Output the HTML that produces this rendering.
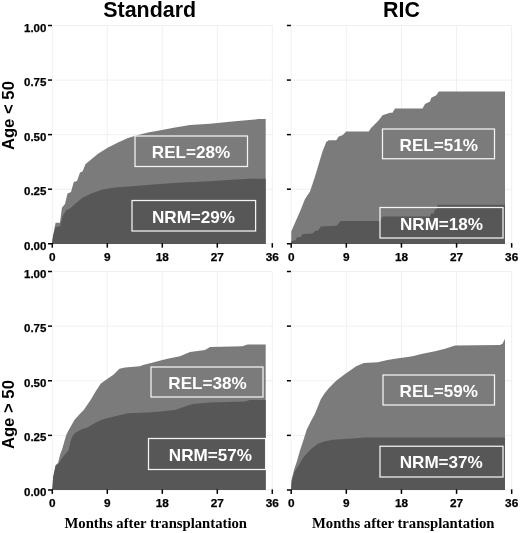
<!DOCTYPE html>
<html><head><meta charset="utf-8"><title>Cumulative incidence</title>
<style>
html,body{margin:0;padding:0;background:#fff;}
svg{display:block;}
text{font-family:"Liberation Sans",Arial,sans-serif;font-weight:bold;fill:#000;}
.ax{font-size:11.8px;}
.ay{font-size:11.5px;}
.ax,.ay{stroke:#000;stroke-width:0.25px;}
.ttl{font-size:21.4px;}
.yl{font-size:16px;}
.bx{font-size:17.1px;fill:#fff;}
.xl{font-family:"Liberation Serif","Times New Roman",serif;font-size:14.7px;}
</style></head><body>
<svg width="520" height="533" viewBox="0 0 520 533">
<rect width="520" height="533" fill="#fff"/>

<line x1="52.3" y1="25.5" x2="52.3" y2="243.75" stroke="#f0f0f0" stroke-width="1"/>
<line x1="107.3" y1="25.5" x2="107.3" y2="243.75" stroke="#f0f0f0" stroke-width="1"/>
<line x1="162.3" y1="25.5" x2="162.3" y2="243.75" stroke="#f0f0f0" stroke-width="1"/>
<line x1="217.3" y1="25.5" x2="217.3" y2="243.75" stroke="#f0f0f0" stroke-width="1"/>
<line x1="272.3" y1="25.5" x2="272.3" y2="243.75" stroke="#f0f0f0" stroke-width="1"/>
<line x1="52.3" y1="243.75" x2="272.6" y2="243.75" stroke="#f0f0f0" stroke-width="1"/>
<line x1="52.3" y1="189.188" x2="272.6" y2="189.188" stroke="#f0f0f0" stroke-width="1"/>
<line x1="52.3" y1="134.625" x2="272.6" y2="134.625" stroke="#f0f0f0" stroke-width="1"/>
<line x1="52.3" y1="80.0625" x2="272.6" y2="80.0625" stroke="#f0f0f0" stroke-width="1"/>
<line x1="52.3" y1="25.5" x2="272.6" y2="25.5" stroke="#f0f0f0" stroke-width="1"/>
<line x1="291.2" y1="25.5" x2="291.2" y2="243.75" stroke="#f0f0f0" stroke-width="1"/>
<line x1="346.32" y1="25.5" x2="346.32" y2="243.75" stroke="#f0f0f0" stroke-width="1"/>
<line x1="401.44" y1="25.5" x2="401.44" y2="243.75" stroke="#f0f0f0" stroke-width="1"/>
<line x1="456.56" y1="25.5" x2="456.56" y2="243.75" stroke="#f0f0f0" stroke-width="1"/>
<line x1="511.68" y1="25.5" x2="511.68" y2="243.75" stroke="#f0f0f0" stroke-width="1"/>
<line x1="291.2" y1="243.75" x2="511.5" y2="243.75" stroke="#f0f0f0" stroke-width="1"/>
<line x1="291.2" y1="189.188" x2="511.5" y2="189.188" stroke="#f0f0f0" stroke-width="1"/>
<line x1="291.2" y1="134.625" x2="511.5" y2="134.625" stroke="#f0f0f0" stroke-width="1"/>
<line x1="291.2" y1="80.0625" x2="511.5" y2="80.0625" stroke="#f0f0f0" stroke-width="1"/>
<line x1="291.2" y1="25.5" x2="511.5" y2="25.5" stroke="#f0f0f0" stroke-width="1"/>
<line x1="52.3" y1="271.5" x2="52.3" y2="490" stroke="#f0f0f0" stroke-width="1"/>
<line x1="107.3" y1="271.5" x2="107.3" y2="490" stroke="#f0f0f0" stroke-width="1"/>
<line x1="162.3" y1="271.5" x2="162.3" y2="490" stroke="#f0f0f0" stroke-width="1"/>
<line x1="217.3" y1="271.5" x2="217.3" y2="490" stroke="#f0f0f0" stroke-width="1"/>
<line x1="272.3" y1="271.5" x2="272.3" y2="490" stroke="#f0f0f0" stroke-width="1"/>
<line x1="52.3" y1="490" x2="272.6" y2="490" stroke="#f0f0f0" stroke-width="1"/>
<line x1="52.3" y1="435.375" x2="272.6" y2="435.375" stroke="#f0f0f0" stroke-width="1"/>
<line x1="52.3" y1="380.75" x2="272.6" y2="380.75" stroke="#f0f0f0" stroke-width="1"/>
<line x1="52.3" y1="326.125" x2="272.6" y2="326.125" stroke="#f0f0f0" stroke-width="1"/>
<line x1="52.3" y1="271.5" x2="272.6" y2="271.5" stroke="#f0f0f0" stroke-width="1"/>
<line x1="291.2" y1="271.5" x2="291.2" y2="490" stroke="#f0f0f0" stroke-width="1"/>
<line x1="346.32" y1="271.5" x2="346.32" y2="490" stroke="#f0f0f0" stroke-width="1"/>
<line x1="401.44" y1="271.5" x2="401.44" y2="490" stroke="#f0f0f0" stroke-width="1"/>
<line x1="456.56" y1="271.5" x2="456.56" y2="490" stroke="#f0f0f0" stroke-width="1"/>
<line x1="511.68" y1="271.5" x2="511.68" y2="490" stroke="#f0f0f0" stroke-width="1"/>
<line x1="291.2" y1="490" x2="511.5" y2="490" stroke="#f0f0f0" stroke-width="1"/>
<line x1="291.2" y1="435.375" x2="511.5" y2="435.375" stroke="#f0f0f0" stroke-width="1"/>
<line x1="291.2" y1="380.75" x2="511.5" y2="380.75" stroke="#f0f0f0" stroke-width="1"/>
<line x1="291.2" y1="326.125" x2="511.5" y2="326.125" stroke="#f0f0f0" stroke-width="1"/>
<line x1="291.2" y1="271.5" x2="511.5" y2="271.5" stroke="#f0f0f0" stroke-width="1"/>
<path d="M51.9,244 L53,236 L55.6,222.75 L60,222.75 L61.9,207.75 L65,204 L67.5,193.5 L71,192 L73.75,182 L77,181 L80,172.5 L82.5,171.5 L85.6,164 L90.5,160 L98,153.75 L108,147.5 L118,142.5 L128,138 L138,135 L148,132.5 L160.5,130.25 L175,127.5 L190,125 L210,123.75 L235,121.25 L255,119.5 L266,118 L265.7,118 L265.7,243.9 Z" fill="#7b7b7b"/>
<path d="M51.9,244 L53,236 L55.6,227 L60,226.5 L62.5,216.5 L66.25,210.25 L70,208.4 L75,204 L82.5,197.75 L91.25,193.4 L102.5,189.6 L115,187.5 L135.5,186 L153,184.5 L178,182.75 L210,181.25 L235,179.5 L266,178.2 L265.7,178.2 L265.7,243.9 Z" fill="#575757"/>
<path d="M291.25,244 L291.25,231.5 L295,222.75 L300,211.5 L305,199 L310,191.5 L315,176.5 L318.75,164 L322.5,151.5 L326.25,142 L328.75,140.25 L336.25,140.25 L338.75,136.5 L342.5,135.25 L346.25,131.5 L368.75,131.5 L371.25,127.75 L375,124 L378.75,120.25 L382.5,115.25 L390,112.75 L392.5,112.75 L395,108.5 L422.5,108.5 L425,104 L430,101.5 L431.25,97.75 L436.25,95.25 L438.75,91.5 L505,91.5 L505,91.5 L505,243.9 Z" fill="#7b7b7b"/>
<path d="M291.1,244 L291.1,241.5 L295.5,240.25 L296.75,237.5 L301,237 L302.5,234 L312.5,233.5 L315,231 L318,230.5 L321,226.5 L336.75,225.75 L340.5,221 L380,221 L382.5,216.5 L430,216.5 L431,213.5 L434,213.5 L435,209 L437,209 L437.5,204.75 L505,204.75 L505,204.75 L505,243.9 Z" fill="#575757"/>
<path d="M51.9,490 L52.5,487.5 L53.1,477.5 L55.6,465 L58.1,463 L60,455 L61.9,450 L66.25,435 L68.75,430 L74.4,420 L80,413.75 L83.75,410 L90.6,400 L95,392.5 L100.6,383.75 L107.5,378.75 L113.75,374.4 L119.4,368.75 L125,367.5 L140,366.25 L143,365 L153,362.5 L160.5,360.5 L167.5,358.75 L180,356.25 L190,352 L205,350 L210,347 L242.5,346.25 L247.5,344.5 L266,344.25 L265.7,344.25 L265.7,490.1 Z" fill="#7b7b7b"/>
<path d="M51.9,490 L52.5,487.5 L53.1,477.5 L55.6,466 L58.1,464 L62.5,457.5 L68.75,450 L69.4,446.25 L71.9,436.9 L75,433 L81.25,429.4 L87.5,427.5 L93.75,423.75 L100,420.6 L105,418.75 L115,416.25 L128,413.25 L148,412.5 L160.5,411.5 L175,410 L185,406.5 L192.5,404 L210,402.5 L245,401.5 L250,400 L266,400 L265.7,400 L265.7,490.1 Z" fill="#575757"/>
<path d="M291.1,490 L291.4,484 L291.75,479 L294,470 L297,461 L300,450.5 L303,441.5 L306.75,429.5 L311.25,420.5 L314.6,414.5 L316.5,410 L320.8,399.2 L324.5,393.5 L328.5,388.5 L336.2,380.8 L345.4,373.8 L356.2,366.2 L363.8,363 L377.7,362.3 L387.5,360 L395,358.75 L407.5,357 L412.5,356.25 L422.5,353.75 L435,351.25 L445,348.75 L455,345.5 L500,345 L502.5,343.75 L505,338.75 L505,338.75 L505,490.1 Z" fill="#7b7b7b"/>
<path d="M291.1,490 L291.4,484 L291.75,480.5 L294.75,471.5 L298.5,465.5 L303,458 L307.5,452.75 L312,448.25 L318,443.75 L324,441.5 L333,439.7 L340.5,439.25 L353,438.5 L365,437.5 L505,437.5 L505,437.5 L505,490.1 Z" fill="#575757"/>
<line x1="52.3" y1="243.15" x2="52.3" y2="247.65" stroke="#000" stroke-width="1.5"/>
<line x1="107.3" y1="243.15" x2="107.3" y2="247.65" stroke="#000" stroke-width="1.5"/>
<line x1="162.3" y1="243.15" x2="162.3" y2="247.65" stroke="#000" stroke-width="1.5"/>
<line x1="217.3" y1="243.15" x2="217.3" y2="247.65" stroke="#000" stroke-width="1.5"/>
<line x1="272.3" y1="243.15" x2="272.3" y2="247.65" stroke="#000" stroke-width="1.5"/>
<line x1="48" y1="243.75" x2="52" y2="243.75" stroke="#000" stroke-width="1.5"/>
<line x1="48" y1="189.188" x2="52" y2="189.188" stroke="#000" stroke-width="1.5"/>
<line x1="48" y1="134.625" x2="52" y2="134.625" stroke="#000" stroke-width="1.5"/>
<line x1="48" y1="80.0625" x2="52" y2="80.0625" stroke="#000" stroke-width="1.5"/>
<line x1="48" y1="25.5" x2="52" y2="25.5" stroke="#000" stroke-width="1.5"/>
<line x1="291.2" y1="243.15" x2="291.2" y2="247.65" stroke="#000" stroke-width="1.5"/>
<line x1="346.32" y1="243.15" x2="346.32" y2="247.65" stroke="#000" stroke-width="1.5"/>
<line x1="401.44" y1="243.15" x2="401.44" y2="247.65" stroke="#000" stroke-width="1.5"/>
<line x1="456.56" y1="243.15" x2="456.56" y2="247.65" stroke="#000" stroke-width="1.5"/>
<line x1="511.68" y1="243.15" x2="511.68" y2="247.65" stroke="#000" stroke-width="1.5"/>
<line x1="286.9" y1="243.75" x2="290.9" y2="243.75" stroke="#000" stroke-width="1.5"/>
<line x1="286.9" y1="189.188" x2="290.9" y2="189.188" stroke="#000" stroke-width="1.5"/>
<line x1="286.9" y1="134.625" x2="290.9" y2="134.625" stroke="#000" stroke-width="1.5"/>
<line x1="286.9" y1="80.0625" x2="290.9" y2="80.0625" stroke="#000" stroke-width="1.5"/>
<line x1="286.9" y1="25.5" x2="290.9" y2="25.5" stroke="#000" stroke-width="1.5"/>
<line x1="52.3" y1="489.4" x2="52.3" y2="493.9" stroke="#000" stroke-width="1.5"/>
<line x1="107.3" y1="489.4" x2="107.3" y2="493.9" stroke="#000" stroke-width="1.5"/>
<line x1="162.3" y1="489.4" x2="162.3" y2="493.9" stroke="#000" stroke-width="1.5"/>
<line x1="217.3" y1="489.4" x2="217.3" y2="493.9" stroke="#000" stroke-width="1.5"/>
<line x1="272.3" y1="489.4" x2="272.3" y2="493.9" stroke="#000" stroke-width="1.5"/>
<line x1="48" y1="490" x2="52" y2="490" stroke="#000" stroke-width="1.5"/>
<line x1="48" y1="435.375" x2="52" y2="435.375" stroke="#000" stroke-width="1.5"/>
<line x1="48" y1="380.75" x2="52" y2="380.75" stroke="#000" stroke-width="1.5"/>
<line x1="48" y1="326.125" x2="52" y2="326.125" stroke="#000" stroke-width="1.5"/>
<line x1="48" y1="271.5" x2="52" y2="271.5" stroke="#000" stroke-width="1.5"/>
<line x1="291.2" y1="489.4" x2="291.2" y2="493.9" stroke="#000" stroke-width="1.5"/>
<line x1="346.32" y1="489.4" x2="346.32" y2="493.9" stroke="#000" stroke-width="1.5"/>
<line x1="401.44" y1="489.4" x2="401.44" y2="493.9" stroke="#000" stroke-width="1.5"/>
<line x1="456.56" y1="489.4" x2="456.56" y2="493.9" stroke="#000" stroke-width="1.5"/>
<line x1="511.68" y1="489.4" x2="511.68" y2="493.9" stroke="#000" stroke-width="1.5"/>
<line x1="286.9" y1="490" x2="290.9" y2="490" stroke="#000" stroke-width="1.5"/>
<line x1="286.9" y1="435.375" x2="290.9" y2="435.375" stroke="#000" stroke-width="1.5"/>
<line x1="286.9" y1="380.75" x2="290.9" y2="380.75" stroke="#000" stroke-width="1.5"/>
<line x1="286.9" y1="326.125" x2="290.9" y2="326.125" stroke="#000" stroke-width="1.5"/>
<line x1="286.9" y1="271.5" x2="290.9" y2="271.5" stroke="#000" stroke-width="1.5"/>
<text class="ax" x="52.3" y="260.85" text-anchor="middle">0</text>
<text class="ax" x="107.3" y="260.85" text-anchor="middle">9</text>
<text class="ax" x="162.3" y="260.85" text-anchor="middle">18</text>
<text class="ax" x="217.3" y="260.85" text-anchor="middle">27</text>
<text class="ax" x="272.3" y="260.85" text-anchor="middle">36</text>
<text class="ax" x="291.2" y="260.85" text-anchor="middle">0</text>
<text class="ax" x="346.32" y="260.85" text-anchor="middle">9</text>
<text class="ax" x="401.44" y="260.85" text-anchor="middle">18</text>
<text class="ax" x="456.56" y="260.85" text-anchor="middle">27</text>
<text class="ax" x="511.68" y="260.85" text-anchor="middle">36</text>
<text class="ax" x="52.3" y="507.1" text-anchor="middle">0</text>
<text class="ax" x="107.3" y="507.1" text-anchor="middle">9</text>
<text class="ax" x="162.3" y="507.1" text-anchor="middle">18</text>
<text class="ax" x="217.3" y="507.1" text-anchor="middle">27</text>
<text class="ax" x="272.3" y="507.1" text-anchor="middle">36</text>
<text class="ax" x="291.2" y="507.1" text-anchor="middle">0</text>
<text class="ax" x="346.32" y="507.1" text-anchor="middle">9</text>
<text class="ax" x="401.44" y="507.1" text-anchor="middle">18</text>
<text class="ax" x="456.56" y="507.1" text-anchor="middle">27</text>
<text class="ax" x="511.68" y="507.1" text-anchor="middle">36</text>
<text class="ay" x="46.4" y="249.75" text-anchor="end">0.00</text>
<text class="ay" x="46.4" y="195.188" text-anchor="end">0.25</text>
<text class="ay" x="46.4" y="140.625" text-anchor="end">0.50</text>
<text class="ay" x="46.4" y="86.0625" text-anchor="end">0.75</text>
<text class="ay" x="46.4" y="31.5" text-anchor="end">1.00</text>
<text class="ay" x="46.4" y="496" text-anchor="end">0.00</text>
<text class="ay" x="46.4" y="441.375" text-anchor="end">0.25</text>
<text class="ay" x="46.4" y="386.75" text-anchor="end">0.50</text>
<text class="ay" x="46.4" y="332.125" text-anchor="end">0.75</text>
<text class="ay" x="46.4" y="277.5" text-anchor="end">1.00</text>
<text class="ttl" x="149.7" y="17" text-anchor="middle">Standard</text>
<text class="ttl" x="401.5" y="17" text-anchor="middle">RIC</text>
<text class="yl" transform="translate(14.3,115.6) rotate(-90)" text-anchor="middle" textLength="69" lengthAdjust="spacingAndGlyphs">Age &lt; 50</text>
<text class="yl" transform="translate(14.3,414.6) rotate(-90)" text-anchor="middle" textLength="69" lengthAdjust="spacingAndGlyphs">Age &gt; 50</text>
<text class="xl" x="155.75" y="528" text-anchor="middle">Months after transplantation</text>
<text class="xl" x="403.25" y="528" text-anchor="middle">Months after transplantation</text>
<rect x="135" y="136" width="112.5" height="30.5" fill="none" stroke="#f4f4f4" stroke-width="1.25"/>
<text class="bx" x="191" y="158" text-anchor="middle">REL=28%</text>
<rect x="132" y="200.5" width="123.6" height="30.5" fill="none" stroke="#f4f4f4" stroke-width="1.25"/>
<text class="bx" x="193.5" y="222.5" text-anchor="middle">NRM=29%</text>
<rect x="382.5" y="129" width="112" height="29.75" fill="none" stroke="#f4f4f4" stroke-width="1.25"/>
<text class="bx" x="438.75" y="150.75" text-anchor="middle">REL=51%</text>
<rect x="380" y="207.5" width="123" height="30.5" fill="none" stroke="#f4f4f4" stroke-width="1.25"/>
<text class="bx" x="441.5" y="229.5" text-anchor="middle">NRM=18%</text>
<rect x="151" y="367" width="112" height="30" fill="none" stroke="#f4f4f4" stroke-width="1.25"/>
<text class="bx" x="207.5" y="388.75" text-anchor="middle">REL=38%</text>
<rect x="148.5" y="438.5" width="117.1" height="31" fill="none" stroke="#f4f4f4" stroke-width="1.25"/>
<text class="bx" x="210.4" y="460.75" text-anchor="middle">NRM=57%</text>
<rect x="383" y="375" width="111.5" height="30" fill="none" stroke="#f4f4f4" stroke-width="1.25"/>
<text class="bx" x="438.75" y="396.75" text-anchor="middle">REL=59%</text>
<rect x="380" y="446.25" width="123" height="30.75" fill="none" stroke="#f4f4f4" stroke-width="1.25"/>
<text class="bx" x="441.25" y="468.25" text-anchor="middle">NRM=37%</text>
</svg></body></html>
